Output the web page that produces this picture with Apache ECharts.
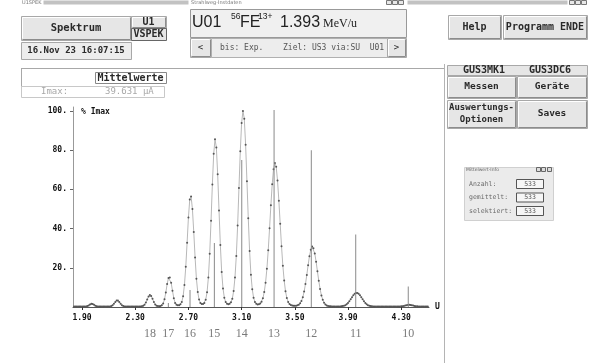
<!DOCTYPE html>
<html>
<head>
<meta charset="utf-8">
<script src="https://cdn.jsdelivr.net/npm/echarts@6/dist/echarts.min.js"></script>
<style>
  html, body { margin: 0; padding: 0; background: #fff; }
  #chart { width: 592px; height: 363px; }
</style>
</head>
<body>
<div id="chart"></div>
<script>
// measured spectrum, % of Imax, one reading every 0.01 starting at 1.84
var massStart = 1.84;
var massStep = 0.01;
var intensity = [
  0.2, 0.2, 0.2, 0.2, 0.2, 0.2,                               // 1.84 - 1.89
  0.2, 0.2, 0.2, 0.3, 0.5, 0.8, 1.3, 1.6, 1.5, 1.1,           // 1.90
  0.65, 0.4, 0.25, 0.2, 0.2, 0.2, 0.2, 0.2, 0.2, 0.2,         // 2.00
  0.2, 0.3, 0.45, 0.9, 1.7, 2.6, 3.3, 3.3, 2.6, 1.7,          // 2.10
  0.9, 0.45, 0.3, 0.2, 0.2, 0.2, 0.2, 0.2, 0.2, 0.2,          // 2.20
  0.2, 0.2, 0.2, 0.25, 0.3, 0.35, 0.6, 1.15, 2.25, 3.8,       // 2.30
  5.35, 6.1, 5.6, 4.15, 2.55, 1.3, 0.67, 0.5, 0.44, 0.52,     // 2.40
  0.86, 1.82, 3.9, 7.4, 11.7, 14.8, 15.1, 12.4, 8.3, 4.5,     // 2.50
  2.1, 1.2, 0.9, 0.93, 1.38, 2.6, 5.5, 11.25, 20.5, 32.8,     // 2.60
  45.7, 54.8, 56.4, 50.0, 38.3, 25.3, 14.4, 7.6, 3.8, 2.07,   // 2.70
  1.48, 1.47, 2.08, 3.75, 7.5, 15.0, 27.2, 44.0, 62.5, 78.1,  // 2.80
  85.5, 81.4, 67.7, 49.2, 31.6, 17.9, 9.45, 4.7, 2.5, 1.62,   // 2.90
  1.46, 1.68, 2.44, 4.26, 8.1, 15.1, 26.0, 41.6, 60.7, 79.4,  // 3.00
  93.9, 100, 96.0, 82.8, 64.1, 45.3, 28.6, 16.5, 9.1, 4.7,    // 3.10
  2.54, 1.62, 1.3, 1.36, 1.75, 2.68, 4.4, 7.6, 12.4, 19.5,    // 3.20
  28.9, 40.1, 51.9, 62.6, 70.3, 73.5, 71.5, 64.5, 54.2, 42.4, // 3.30
  31.0, 21.0, 13.5, 8.0, 4.6, 2.6, 1.5, 1.0, 0.74, 0.61,      // 3.40
  0.58, 0.66, 0.83, 1.19, 1.88, 3.1, 5.0, 7.9, 11.7, 16.3,    // 3.50
  21.3, 25.9, 29.2, 30.8, 30.0, 27.3, 23.1, 18.2, 13.4, 9.2,  // 3.60
  5.9, 3.7, 2.2, 1.3, 0.8, 0.5, 0.4, 0.33, 0.3, 0.28,         // 3.70
  0.27, 0.26, 0.25, 0.25, 0.3, 0.35, 0.45, 0.65, 0.95, 1.45,  // 3.80
  2.1, 2.95, 3.95, 5.0, 6.0, 6.8, 7.2, 7.2, 6.8, 6.0,         // 3.90
  5.0, 3.95, 2.95, 2.1, 1.45, 0.95, 0.65, 0.45, 0.35, 0.3,    // 4.00
  0.25, 0.2, 0.2, 0.2, 0.2, 0.2, 0.2, 0.2, 0.2, 0.2,          // 4.10
  0.2, 0.2, 0.2, 0.2, 0.2, 0.2, 0.2, 0.2, 0.2, 0.26,          // 4.20
  0.32, 0.42, 0.57, 0.75, 0.92, 1.05, 1.1, 1.05, 0.92, 0.75,  // 4.30
  0.57, 0.42, 0.32, 0.26, 0.2, 0.2, 0.2, 0.2, 0.2, 0.2,       // 4.40
  0.2                                                         // 4.50
];

var tickValues = [1.90, 2.30, 2.70, 3.10, 3.50, 3.90, 4.30];
var yTickValues = [20, 40, 60, 80, 100];

// charge states: position on the U axis and expected (theory) height
var chargeStates = [18, 17, 16, 15, 14, 13, 12, 11, 10];
var chargePos = [2.411, 2.549, 2.712, 2.895, 3.101, 3.344, 3.624, 3.958, 4.353];
var theoryHeight = [0, 2, 8.7, 32.6, 75, 100.5, 80, 37, 10.4];

var spectrum = intensity.map(function (v, i) {
  return [+(massStart + i * massStep).toFixed(2), v];
});
var theory = [];
chargePos.forEach(function (p, i) {
  if (theoryHeight[i] > 0) theory.push([p, theoryHeight[i]]);
});

var MONO = 'DejaVu Sans Mono';

// --- GUI chrome around the plot ---
function box(x, y, w, h, fill, stroke) {
  return { type: 'rect', silent: true, shape: { x: x + 0.5, y: y + 0.5, width: w, height: h },
           style: { fill: fill, stroke: stroke, lineWidth: 1 } };
}
function txt(x, y, s, font, color, align) {
  return { type: 'text', silent: true, x: x, y: y,
           style: { text: s, font: font, fill: color, align: align || 'center', verticalAlign: 'middle',
                    textAlign: align || 'center', textVerticalAlign: 'middle' } };
}
function line(x1, y1, x2, y2, color) {
  return { type: 'line', silent: true, shape: { x1: x1, y1: y1, x2: x2, y2: y2 },
           style: { stroke: color, lineWidth: 1 } };
}
function button(x, y, w, h, label, font) {
  var out = [box(x, y, w, h, '#e6e6e6', '#a8a8a8'),
             line(x + 1.5, y + h - 0.5, x + w - 0.5, y + h - 0.5, '#8c8c8c'),
             line(x + w - 0.5, y + 1.5, x + w - 0.5, y + h - 0.5, '#8c8c8c'),
             line(x + 1.5, y + 1.5, x + w - 1.5, y + 1.5, '#ffffff'),
             line(x + 1.5, y + 1.5, x + 1.5, y + h - 1.5, '#ffffff')];
  var parts = label.split('\n');
  parts.forEach(function (p, i) {
    out.push(txt(x + w / 2, y + h / 2 + (i - (parts.length - 1) / 2) * 12, p, font, '#2a2a2a'));
  });
  return out;
}
function icons(x) {
  return [box(x, 0, 5, 4, '#e8e8e8', '#777'), box(x + 6, 0, 5, 4, '#e8e8e8', '#777'), box(x + 12, 0, 5, 4, '#e8e8e8', '#777')];
}

var chrome = [];
// window title strips
chrome.push(txt(22, 2.5, 'U1SPEK', '5px DejaVu Sans', '#777', 'left'));
chrome.push(box(43, 0, 145, 4, '#c2c2c2', null));
chrome.push(txt(191, 2.5, 'Strahlweg-Instdaten', '5px DejaVu Sans', '#777', 'left'));
chrome = chrome.concat(icons(386));
chrome.push(box(407, 0, 160, 4, '#c2c2c2', null));
chrome = chrome.concat(icons(569));

// left block
chrome = chrome.concat(button(21, 16, 110, 24, 'Spektrum', 'bold 10.5px ' + MONO));
chrome = chrome.concat(button(131, 16, 35, 12, 'U1', 'bold 10px ' + MONO));
chrome.push(box(131, 28, 35, 12, '#e6e6e6', '#666'));
chrome.push(txt(148.5, 34.5, 'VSPEK', 'bold 10px ' + MONO, '#2a2a2a'));
chrome.push(box(21, 42, 110, 17, '#ededed', '#a8a8a8'));
chrome.push(txt(76, 51, '16.Nov 23 16:07:15', 'bold 9px ' + MONO, '#2a2a2a'));

// beam line info
chrome.push(box(190, 9, 216, 28, '#f0f0f0', '#999'));
chrome.push(txt(192, 23, 'U01', '16px Liberation Sans', '#222', 'left'));
chrome.push(txt(231, 17, '56', '8.5px Liberation Sans', '#222', 'left'));
chrome.push(txt(240, 23, 'FE', '16px Liberation Sans', '#222', 'left'));
chrome.push(txt(258, 17, '13+', '8.5px Liberation Sans', '#222', 'left'));
chrome.push(txt(280, 23, '1.393', '16px Liberation Sans', '#222', 'left'));
chrome.push(txt(323, 24, 'MeV/u', '12px Liberation Serif', '#222', 'left'));
chrome = chrome.concat(button(190, 38, 21, 19, '<', '9px ' + MONO));
chrome.push(box(211, 38, 176, 19, '#ededed', '#b0b0b0'));
chrome.push(txt(220, 48, 'bis: Exp.', '8px ' + MONO, '#555', 'left'));
chrome.push(txt(283, 48, 'Ziel: US3 via:SU  U01', '8px ' + MONO, '#555', 'left'));
chrome = chrome.concat(button(387, 38, 19, 19, '>', '9px ' + MONO));

// top right
chrome = chrome.concat(button(448, 15, 53, 24, 'Help', 'bold 10px ' + MONO));
chrome = chrome.concat(button(503, 15, 84, 24, 'Programm ENDE', 'bold 10px ' + MONO));

// plot panel frame
chrome.push(line(21, 68.5, 445, 68.5, '#a8a8a8'));
chrome.push(line(21.5, 68, 21.5, 97, '#a8a8a8'));
chrome.push(line(444.5, 64, 444.5, 363, '#b4b4b4'));
chrome.push(box(95, 72, 71, 11, '#ffffff', '#888'));
chrome.push(txt(130.5, 78, 'Mittelwerte', 'bold 10px ' + MONO, '#2a2a2a'));
chrome.push(box(21, 86, 143, 11, '#ffffff', '#c8c8c8'));
chrome.push(txt(41, 92, 'Imax:', '9px ' + MONO, '#a8a8a8', 'left'));
chrome.push(txt(105, 92, '39.631 µA', '9px ' + MONO, '#a8a8a8', 'left'));

// right panel
chrome.push(box(447, 65, 140, 10, '#e6e6e6', '#a8a8a8'));
chrome.push(txt(484, 70.5, 'GUS3MK1', 'bold 10px ' + MONO, '#2a2a2a'));
chrome.push(txt(550, 70.5, 'GUS3DC6', 'bold 10px ' + MONO, '#2a2a2a'));
chrome = chrome.concat(button(447, 76, 69, 22, 'Messen', 'bold 9.5px ' + MONO));
chrome = chrome.concat(button(517, 76, 70, 22, 'Geräte', 'bold 9.5px ' + MONO));
chrome = chrome.concat(button(447, 100, 69, 28, 'Auswertungs-\nOptionen', 'bold 9px ' + MONO));
chrome = chrome.concat(button(517, 100, 70, 28, 'Saves', 'bold 9.5px ' + MONO));

// Mittelwert-Info window
chrome.push(box(464, 167, 89, 53, '#ebebeb', '#d0d0d0'));
chrome.push(txt(466, 169.5, 'Mittelwert-Info', '4.5px DejaVu Sans', '#666', 'left'));
chrome.push(box(536, 167, 4, 4, '#ddd', '#666'));
chrome.push(box(541, 167, 4, 4, '#ddd', '#666'));
chrome.push(box(547, 167, 4, 4, '#ddd', '#666'));
[['Anzahl:', 184], ['gemittelt:', 197.5], ['selektiert:', 211]].forEach(function (r) {
  chrome.push(txt(469, r[1], r[0], '6.5px ' + MONO, '#6a6a6a', 'left'));
  chrome.push(box(516, r[1] - 5, 27, 9, '#f6f6f6', '#555'));
  chrome.push(txt(530, r[1], '533', '6.5px ' + MONO, '#555'));
});

var chartDom = document.getElementById('chart');
var chart = echarts.init(chartDom, null, { renderer: 'canvas' });

var option = {
  animation: false,
  backgroundColor: '#ffffff',
  grid: { left: 73, right: 163, top: 107, bottom: 56, containLabel: false, outerBoundsMode: 'none' },
  xAxis: [
    {
      type: 'value', min: 1.832, max: 4.509, position: 'bottom',
      axisLine: { lineStyle: { color: '#555', width: 1 } },
      axisTick: { customValues: tickValues, length: 3, lineStyle: { color: '#333' } },
      axisLabel: {
        customValues: tickValues, margin: 7,
        formatter: function (v) { return v.toFixed(2); },
        color: '#111', fontFamily: MONO, fontWeight: 'bold', fontSize: 8
      },
      splitLine: { show: false },
      name: 'U', nameLocation: 'end', nameGap: 6,
      nameTextStyle: { color: '#111', fontFamily: MONO, fontWeight: 'bold', fontSize: 8 }
    },
    {
      // charge state labels under the axis
      type: 'value', min: 1.832, max: 4.509, position: 'bottom', offset: 21,
      axisLine: { show: false }, axisTick: { show: false }, splitLine: { show: false },
      axisLabel: {
        customValues: chargePos, margin: 0,
        formatter: function (v) {
          var best = 0;
          chargePos.forEach(function (p, i) {
            if (Math.abs(p - v) < Math.abs(chargePos[best] - v)) best = i;
          });
          return String(chargeStates[best]);
        },
        color: '#7a7a7a', fontFamily: 'Liberation Serif', fontSize: 12
      }
    }
  ],
  yAxis: {
    type: 'value', min: 0, max: 102,
    axisLine: { show: true, lineStyle: { color: '#999' } },
    axisTick: { show: true, customValues: yTickValues, length: 3, lineStyle: { color: '#666' } },
    axisLabel: {
      customValues: yTickValues, margin: 6,
      formatter: function (v) { return v + '.'; },
      color: '#111', fontFamily: MONO, fontWeight: 'bold', fontSize: 8
    },
    splitLine: { show: false },
    name: '% Imax', nameLocation: 'end', nameGap: -5,
    nameTextStyle: { color: '#111', fontFamily: MONO, fontWeight: 'bold', fontSize: 8,
                     align: 'left', verticalAlign: 'middle', padding: [0, 0, 0, 8] }
  },
  series: [
    {
      name: 'Spektrum', type: 'line', xAxisIndex: 0, data: spectrum,
      symbol: 'circle', symbolSize: 2, showSymbol: true, showAllSymbol: true,
      itemStyle: { color: '#555' },
      lineStyle: { color: '#b8b8b8', width: 1 },
      silent: true, z: 2
    },
    {
      name: 'Theorie', type: 'bar', xAxisIndex: 0, data: theory,
      barWidth: 1, itemStyle: { color: '#8a8a8a' },
      silent: true, z: 3
    }
  ],
  graphic: chrome
};

chart.setOption(option);

window.addEventListener('resize', function () {
  chart.resize();
});
</script>
</body>
</html>
